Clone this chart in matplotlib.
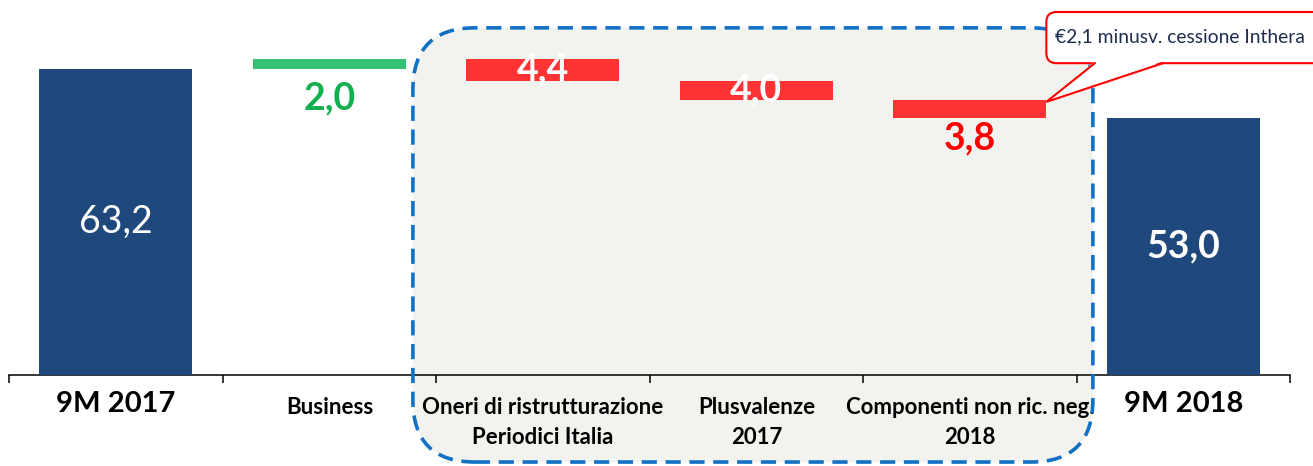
import matplotlib
matplotlib.use("Agg")
import matplotlib.pyplot as plt
from matplotlib.patches import FancyBboxPatch, Polygon

# ---------------- data ----------------
categories = ["9M 2017", "Business", "Oneri di ristrutturazione\nPeriodici Italia",
              "Plusvalenze\n2017", "Componenti non ric. neg.\n2018", "9M 2018"]
values = [63.2, 2.0, -4.4, -4.0, -3.8, 53.0]
value_labels = ["63,2", "2,0", "4,4", "4,0", "3,8", "53,0"]
kinds = ["total", "delta", "delta", "delta", "delta", "total"]
callout_text = "€2,1 minusv. cessione Inthera"

# ---------------- style ----------------
NAVY = "#1F497D"
GREEN_BAR = "#33C173"
GREEN_TXT = "#12B04E"
RED_BAR = "#FF3333"
RED_TXT = "#FF0000"
FONT = ["Lato", "DejaVu Sans"]
plt.rcParams["font.family"] = FONT

W, H = 1313, 466
fig = plt.figure(figsize=(W / 100, H / 100), dpi=100)
ax = fig.add_axes([0, 0, 1, 1])
ax.set_xlim(-0.543, 5.607)
ax.set_ylim(-18.79, 77.45)
ax.patch.set_alpha(0)

sx = W / (5.607 + 0.543)
sy = H / (77.45 + 18.79)
aspect = sx / sy

# waterfall geometry
bottoms, heights, colors = [], [], []
running = 0.0
for v, k in zip(values, kinds):
    if k == "total":
        bottoms.append(0.0); heights.append(v); colors.append(NAVY)
        running = v
    else:
        if v >= 0:
            bottoms.append(running); heights.append(v); colors.append(GREEN_BAR)
        else:
            bottoms.append(running + v); heights.append(-v); colors.append(RED_BAR)
        running += v

x = list(range(len(categories)))
bw = 0.716

# highlight box (background fill + dashed edge)
bx0, bx1, by0, by1 = 1.391, 4.576, -17.97, 71.7
rnd = 62 / sx
ax.add_patch(FancyBboxPatch((bx0, by0), bx1 - bx0, by1 - by0,
                            boxstyle=f"round,pad=0,rounding_size={rnd}",
                            mutation_aspect=aspect, facecolor="#F2F2EE",
                            edgecolor="none", zorder=0.5))
ax.add_patch(FancyBboxPatch((bx0, by0), bx1 - bx0, by1 - by0,
                            boxstyle=f"round,pad=0,rounding_size={rnd}",
                            mutation_aspect=aspect, facecolor="none",
                            edgecolor="#1271C4", lw=2.6,
                            linestyle=(0, (4.2, 2.4)), zorder=4))

ax.bar(x, heights, bottom=bottoms, width=bw, color=colors, zorder=3)

# axis
for s in ["top", "left", "right"]:
    ax.spines[s].set_visible(False)
ax.spines["bottom"].set_position(("data", 0))
ax.spines["bottom"].set_bounds(-0.5, len(categories) - 0.5)
ax.spines["bottom"].set_linewidth(1.1)
ax.spines["bottom"].set_zorder(2)
ax.set_xticks([i - 0.5 for i in range(len(categories) + 1)])
ax.set_xticklabels([])
ax.tick_params(axis="x", direction="out", length=6, width=1.1, color="black")
ax.set_yticks([])

# category labels
for i, c in enumerate(categories):
    if kinds[i] == "total":
        ax.annotate(c, (i, 0), xytext=(0, -11.5), textcoords="offset points",
                    ha="center", va="top", fontsize=21, fontweight="bold",
                    color="black")
    else:
        ax.annotate(c, (i, 0), xytext=(0, -16.0), textcoords="offset points",
                    ha="center", va="top", fontsize=16, fontweight="bold",
                    color="black", linespacing=1.53, multialignment="center")

# value labels
for i, lab in enumerate(value_labels):
    mid = bottoms[i] + heights[i] / 2
    if i == 0:
        ax.text(i, mid, lab, ha="center", va="center", fontsize=27,
                color="white", zorder=5)
    elif i == len(values) - 1:
        ax.text(i, mid, lab, ha="center", va="center", fontsize=27,
                fontweight="bold", color="white", zorder=5)
    elif i == 1:
        ax.annotate(lab, (i, bottoms[i]), xytext=(0, -21), textcoords="offset points",
                    ha="center", va="center", fontsize=27, fontweight="bold",
                    color=GREEN_TXT, zorder=5)
    elif i == 4:
        ax.annotate(lab, (i, bottoms[i]), xytext=(0, -14.5), textcoords="offset points",
                    ha="center", va="center", fontsize=27, fontweight="bold",
                    color=RED_TXT, zorder=5)
    else:
        ax.text(i, mid, lab, ha="center", va="center", fontsize=27,
                fontweight="bold", color="white", zorder=5)

# callout
tip_x = 4 + bw / 2
tip_y = bottoms[4] + heights[4] - 0.4
cb_x0, cb_y0, cb_y1 = tip_x, 64.4, 74.97
cb_x1 = 5.75
ax.add_patch(FancyBboxPatch((cb_x0, cb_y0), cb_x1 - cb_x0, cb_y1 - cb_y0,
                            boxstyle=f"round,pad=0,rounding_size={10 / sx}",
                            mutation_aspect=aspect, facecolor="white",
                            edgecolor="#FF0000", lw=1.5, zorder=6, clip_on=False))
base_l, base_r = 4.585, 4.904
ax.add_patch(Polygon([(base_l, cb_y0 + 0.35), (tip_x, tip_y), (base_r, cb_y0 + 0.35)],
                     closed=True, facecolor="white", edgecolor="none", zorder=7))
ax.plot([base_l, tip_x, base_r], [cb_y0, tip_y, cb_y0], color="#FF0000", lw=1.5,
        zorder=8, solid_joinstyle="miter")
ax.text(4.40, (cb_y0 + cb_y1) / 2 + 0.2, callout_text, ha="left", va="center",
        fontsize=13.9, color="#1F2D4F", zorder=9)

fig.savefig("out.png", dpi=100)
